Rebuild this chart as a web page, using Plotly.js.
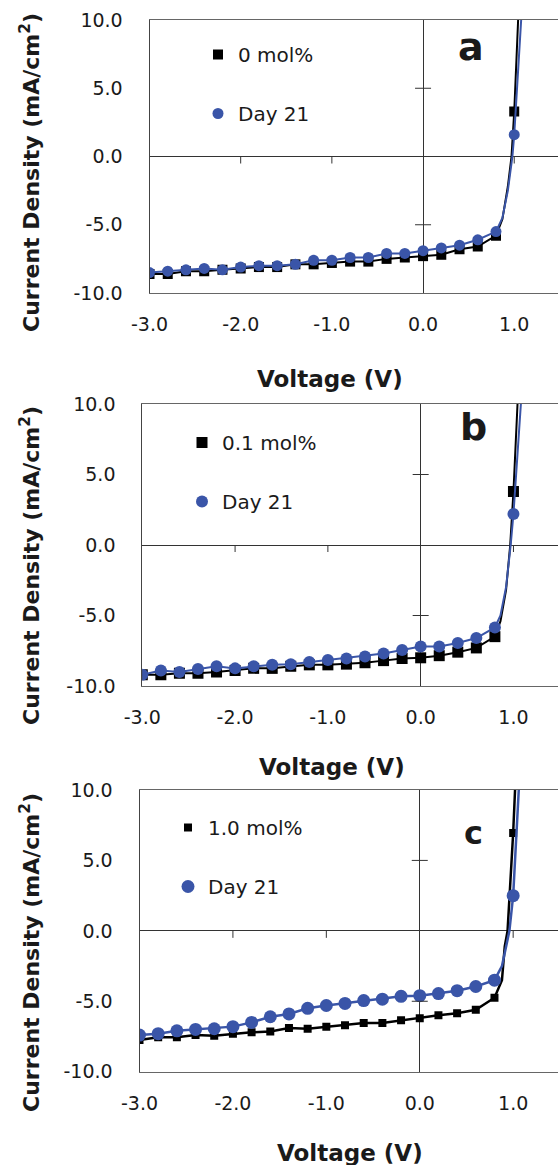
<!DOCTYPE html>
<html>
<head>
<meta charset="utf-8">
<script src="https://cdn.plot.ly/plotly-3.0.1.min.js"></script>
<style>html,body{margin:0;padding:0;background:#fff;}#chart{width:558px;height:1165px;}</style>
</head>
<body>
<div id="chart"></div>
<script>
// ---------- DATA ----------
const voltage = [-3.0,-2.8,-2.6,-2.4,-2.2,-2.0,-1.8,-1.6,-1.4,-1.2,-1.0,-0.8,-0.6,-0.4,-0.2,0.0,0.2,0.4,0.6,0.8,1.0];

// Panel a : 0 mol%
const jA_0mol  = [-8.6,-8.6,-8.4,-8.4,-8.3,-8.2,-8.1,-8.1,-7.9,-7.9,-7.8,-7.7,-7.7,-7.5,-7.4,-7.3,-7.2,-6.8,-6.6,-5.8,3.3];
const jA_day21 = [-8.5,-8.4,-8.3,-8.2,-8.3,-8.1,-8.0,-8.0,-7.9,-7.6,-7.6,-7.4,-7.4,-7.1,-7.1,-6.9,-6.7,-6.5,-6.1,-5.5,1.6];
// Panel b : 0.1 mol%
const jB_01mol = [-9.2,-9.2,-9.1,-9.1,-9.0,-8.9,-8.75,-8.75,-8.6,-8.5,-8.5,-8.45,-8.35,-8.2,-8.05,-8.0,-7.85,-7.6,-7.3,-6.5,3.8];
const jB_day21 = [-9.2,-8.9,-9.0,-8.8,-8.6,-8.75,-8.6,-8.5,-8.45,-8.3,-8.15,-8.05,-7.9,-7.7,-7.45,-7.2,-7.2,-6.95,-6.6,-5.85,2.2];
// Panel c : 1.0 mol%
const jC_10mol = [-7.75,-7.55,-7.55,-7.4,-7.45,-7.3,-7.2,-7.15,-6.9,-6.95,-6.8,-6.7,-6.55,-6.55,-6.35,-6.2,-6.0,-5.85,-5.6,-4.75,6.95];
const jC_day21 = [-7.4,-7.3,-7.1,-7.0,-6.95,-6.8,-6.5,-6.1,-5.9,-5.5,-5.3,-5.15,-4.95,-4.85,-4.65,-4.6,-4.45,-4.25,-3.95,-3.5,2.5];

// Extra points traced along the drawn curves near the knee (no markers there)
const kneeV_A_0mol  = [0.87, 0.93, 0.97, 1.04, 1.10];
const kneeJ_A_0mol  = [-4.6, -2.2, 0.0, 10.0, 19.0];
const kneeV_A_day21 = [0.87, 0.93, 0.98, 1.076, 1.12];
const kneeJ_A_day21 = [-4.5, -2.5, 0.0, 10.0, 15.0];
const kneeV_B_01mol = [0.86, 0.92, 0.965, 1.04, 1.10];
const kneeJ_B_01mol = [-5.4, -3.2, 0.0, 10.0, 18.0];
const kneeV_B_day21 = [0.86, 0.92, 0.97, 1.08, 1.12];
const kneeJ_B_day21 = [-5.0, -3.0, 0.0, 10.0, 14.0];
const kneeV_C_10mol = [0.88, 0.91, 0.94, 1.02, 1.06];
const kneeJ_C_10mol = [-3.5, -1.1, 0.0, 10.0, 16.0];
const kneeV_C_day21 = [0.88, 0.96, 1.07, 1.10];
const kneeJ_C_day21 = [-2.5, 0.0, 10.0, 15.0];

const seriesNames = [['0 mol%','Day 21'],['0.1 mol%','Day 21'],['1.0 mol%','Day 21']];
const panelLetters = ['a','b','c'];

const xTickVals = [-3, -2, -1, 0, 1];
const xTickLabels = ['-3.0','-2.0','-1.0','0.0','1.0'];
const yTickVals = [-10, -5, 0, 5, 10];
const yTickLabels = ['-10.0','-5.0','0.0','5.0','10.0'];
const xTitle = 'Voltage (V)';
const yTitle = 'Current Density (mA/cm<sup>2</sup>)';

// ---------- LAYOUT ----------
const W = 558, H = 1165;
const FONT = 'DejaVu Sans';
const BLACK = '#000000', BLUE = '#3a55a8';

function merge(v, j, kv, kj) {
  const pts = v.map((x, i) => [x, j[i]]).concat(kv.map((x, i) => [x, kj[i]]));
  pts.sort((p, q) => p[0] - q[0]);
  return {x: pts.map(p => p[0]), y: pts.map(p => p[1])};
}

const panels = [
  {k: jA_0mol, b: jA_day21, kk: [kneeV_A_0mol, kneeJ_A_0mol], kb: [kneeV_A_day21, kneeJ_A_day21],
   left: 149.5, top: 20, bottom: 293, xt: [330, 379], yt: [30, 173], letter: [471, 47, 38],
   leg: [218, 55], sq: 10, ci: 11, lw: 2},
  {k: jB_01mol, b: jB_day21, kk: [kneeV_B_01mol, kneeJ_B_01mol], kb: [kneeV_B_day21, kneeJ_B_day21],
   left: 142.3, top: 404, bottom: 686, xt: [332, 767], yt: [30, 566], letter: [473, 427, 38],
   leg: [202, 443], sq: 11, ci: 12, lw: 2},
  {k: jC_10mol, b: jC_day21, kk: [kneeV_C_10mol, kneeJ_C_10mol], kb: [kneeV_C_day21, kneeJ_C_day21],
   left: 139.5, top: 790, bottom: 1071.7, xt: [350, 1153], yt: [30, 953], letter: [473, 833, 32],
   leg: [188, 828], sq: 8, ci: 13, lw: 2.5}
];

const traces = [];
const layout = {
  width: W, height: H,
  margin: {l: 0, r: 0, t: 0, b: 0},
  paper_bgcolor: '#fff', plot_bgcolor: '#fff',
  font: {family: FONT, color: '#1a1a1a'},
  showlegend: true,
  annotations: [], shapes: []
};

panels.forEach((p, i) => {
  const n = i + 1;
  const xa = 'x' + (n === 1 ? '' : n), ya = 'y' + (n === 1 ? '' : n);
  const legId = 'legend' + (n === 1 ? '' : n);
  const lk = merge(voltage, p.k, p.kk[0], p.kk[1]);
  const lb = merge(voltage, p.b, p.kb[0], p.kb[1]);
  traces.push({x: lk.x, y: lk.y, xaxis: xa, yaxis: ya, mode: 'lines', line: {color: BLACK, width: p.lw}, showlegend: false, hoverinfo: 'skip'});
  traces.push({x: voltage, y: p.k, xaxis: xa, yaxis: ya, mode: 'markers', name: seriesNames[i][0],
    marker: {symbol: 'square', size: p.sq, color: BLACK}, legend: legId, legendgroup: 'k' + n});
  traces.push({x: lb.x, y: lb.y, xaxis: xa, yaxis: ya, mode: 'lines', line: {color: BLUE, width: p.lw}, showlegend: false, hoverinfo: 'skip'});
  traces.push({x: voltage, y: p.b, xaxis: xa, yaxis: ya, mode: 'markers', name: seriesNames[i][1],
    marker: {symbol: 'circle', size: p.ci, color: BLUE}, legend: legId, legendgroup: 'b' + n});

  const xk = 'xaxis' + (n === 1 ? '' : n), yk = 'yaxis' + (n === 1 ? '' : n);
  layout[xk] = {
    domain: [p.left / W, 1], range: [-3, 1.48], anchor: ya,
    tickmode: 'array', tickvals: xTickVals, ticktext: xTickLabels, ticks: '',
    tickfont: {family: FONT, size: 19, color: '#1a1a1a'}, ticklabelstandoff: 14,
    showgrid: false, zeroline: true, zerolinecolor: '#333', zerolinewidth: 1,
    showline: true, mirror: true, linecolor: '#666', linewidth: 1, fixedrange: true
  };
  layout[yk] = {
    domain: [1 - p.bottom / H, 1 - p.top / H], range: [-10, 10], anchor: xa,
    tickmode: 'array', tickvals: yTickVals, ticktext: yTickLabels, ticks: '',
    tickfont: {family: FONT, size: 19, color: '#1a1a1a'}, ticklabelstandoff: 22,
    showgrid: false, zeroline: true, zerolinecolor: '#333', zerolinewidth: 1,
    showline: true, mirror: false, linecolor: '#444', linewidth: 1, fixedrange: true
  };
  layout[legId] = {
    x: (p.leg[0] - 20) / W, xanchor: 'left', y: 1 - (p.leg[1] - 20) / H, yanchor: 'top',
    bgcolor: 'rgba(0,0,0,0)', borderwidth: 0, tracegroupgap: 30,
    font: {family: FONT, size: 20, color: '#1a1a1a'}, itemclick: false
  };
  // tick marks on the crossing (zero) axes
  xTickVals.filter(v => v !== 0 && v !== -3).forEach(v => layout.shapes.push({
    type: 'line', xref: xa, yref: ya, x0: v, x1: v, ysizemode: 'pixel', yanchor: 0, y0: 0, y1: -7,
    line: {color: '#333', width: 1}
  }));
  yTickVals.filter(v => v !== 0 && Math.abs(v) !== 10).forEach(v => layout.shapes.push({
    type: 'line', xref: xa, yref: ya, y0: v, y1: v, xsizemode: 'pixel', xanchor: 0, x0: -8, x1: 8,
    line: {color: '#333', width: 1}
  }));
  layout.annotations.push({text: xTitle, xref: 'paper', yref: 'paper', x: p.xt[0] / W, y: 1 - p.xt[1] / H,
    xanchor: 'center', yanchor: 'middle', showarrow: false, font: {family: FONT, size: 23, weight: 'bold', color: '#1a1a1a'}});
  layout.annotations.push({text: yTitle, xref: 'paper', yref: 'paper', x: p.yt[0] / W, y: 1 - p.yt[1] / H,
    xanchor: 'center', yanchor: 'middle', textangle: -90, showarrow: false, font: {family: FONT, size: 22, weight: 'bold', color: '#1a1a1a'}});
  layout.annotations.push({text: panelLetters[i], xref: 'paper', yref: 'paper', x: p.letter[0] / W, y: 1 - p.letter[1] / H,
    xanchor: 'center', yanchor: 'middle', showarrow: false, font: {family: FONT, size: p.letter[2], weight: 'bold', color: '#1a1a1a'}});
});

Plotly.newPlot('chart', traces, layout, {staticPlot: true, displayModeBar: false});
</script>
</body>
</html>
